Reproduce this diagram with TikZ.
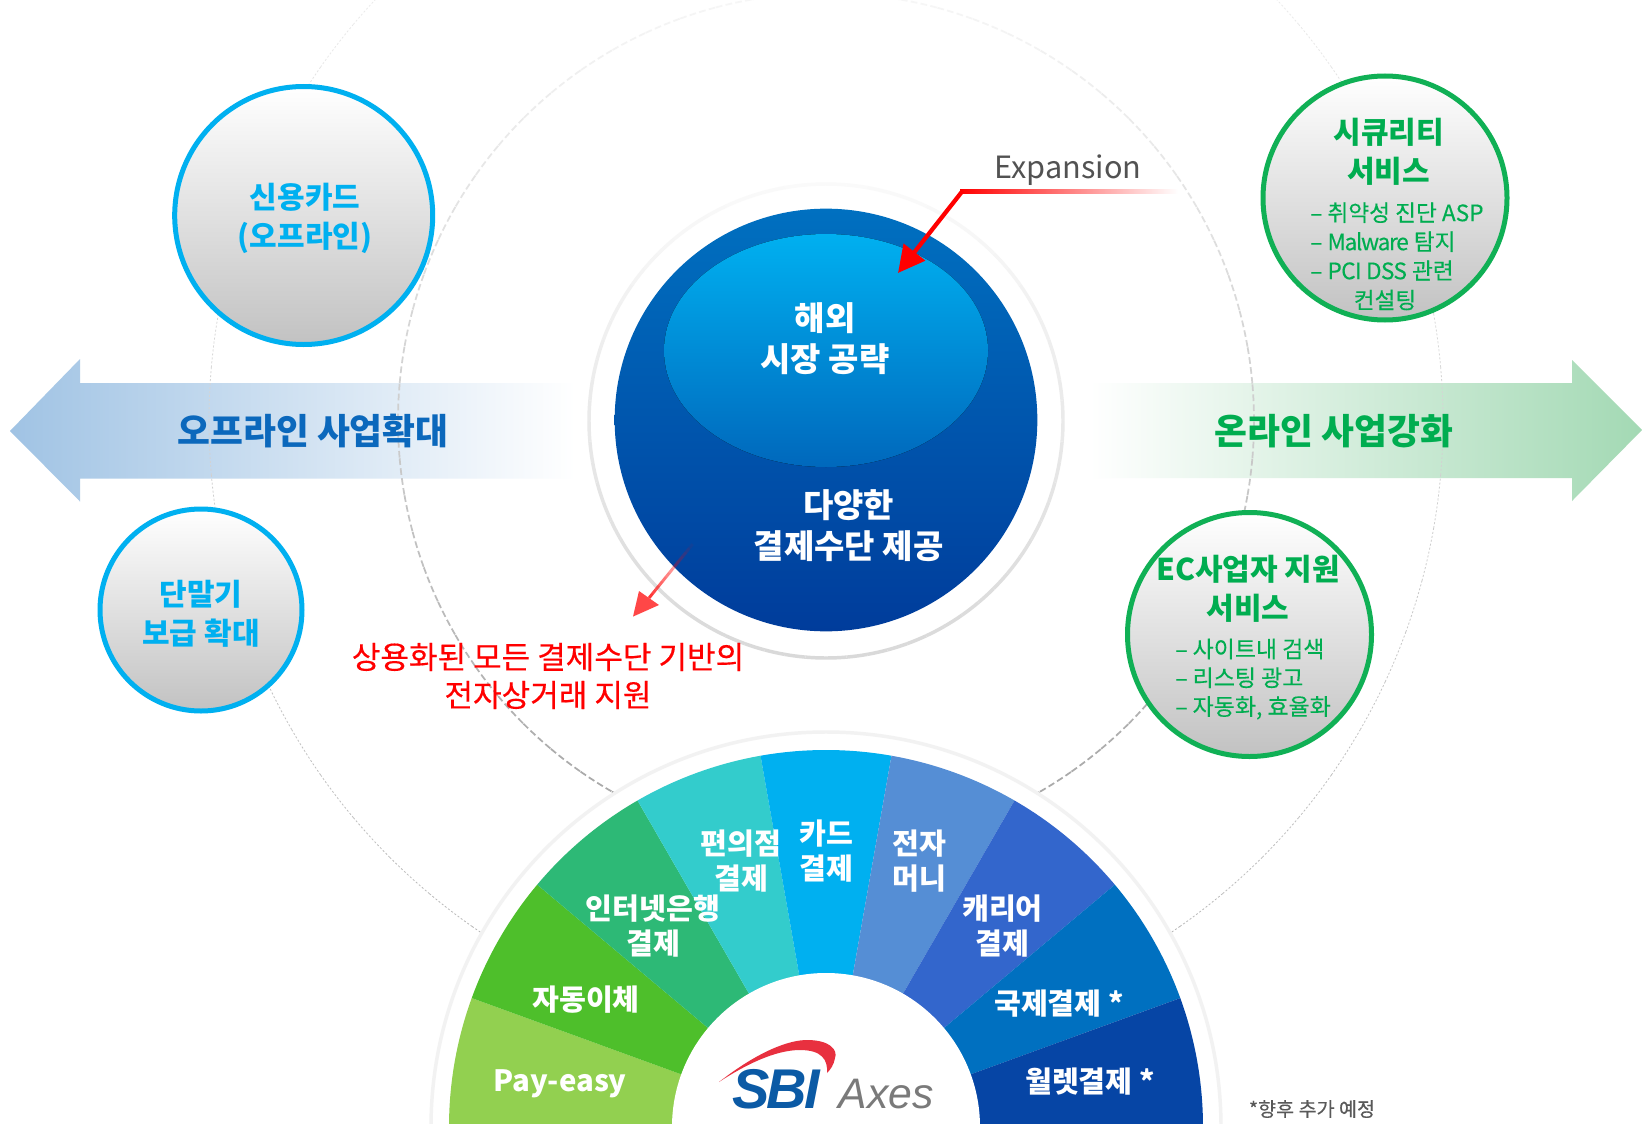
\documentclass[tikz,border=0pt]{standalone}
\usepackage{fontspec}
\setmainfont{Noto Sans CJK KR}
\newfontfamily\latinf{Liberation Sans}
\usetikzlibrary{calc,arrows.meta}
\definecolor{cyanT}{HTML}{00B0F0}
\definecolor{greenT}{HTML}{00AD50}
\definecolor{greenL}{HTML}{10B055}
\definecolor{blueT}{HTML}{0B68BC}
\definecolor{wPay}{HTML}{92D050}
\definecolor{wAuto}{HTML}{4EBF2B}
\definecolor{wNet}{HTML}{2DB976}
\definecolor{wConv}{HTML}{33CCCC}
\definecolor{wCard}{HTML}{00B0F0}
\definecolor{wEmon}{HTML}{558ED5}
\definecolor{wCarr}{HTML}{3366CC}
\definecolor{wIntl}{HTML}{0070C0}
\definecolor{wWall}{HTML}{0645A5}
\definecolor{sbiB}{HTML}{0B5AA5}
\definecolor{sbiR}{HTML}{E8303F}
\newcommand{\tightA}[1]{{\addfontfeature{LetterSpace=-6}#1}}
\newcommand{\tightB}[1]{{\addfontfeature{LetterSpace=-3}#1}}
\tikzset{
  x=0.75pt,y=-0.75pt,
  ball/.style={circle,inner sep=0pt,line width=3.75pt,top color=white,bottom color=black!24,shading=axis},
  ballC/.style={ball,draw=cyanT},
  ballG/.style={ball,draw=greenL},
  ttl/.style={align=center,inner sep=0pt,font=\fontsize{22.5}{29}\selectfont\bfseries},
  big/.style={inner sep=0pt,font=\fontsize{26.8}{30}\selectfont\bfseries},
  core/.style={align=center,inner sep=0pt,text=white,font=\fontsize{24.75}{30.75}\selectfont\bfseries},
  wheel/.style={align=center,inner sep=0pt,text=white,font=\fontsize{21.9}{26.25}\selectfont\bfseries},
  bul/.style={align=left,inner sep=0pt,text=greenT,font=\fontsize{17}{21.75}\selectfont\addfontfeature{FakeBold=0.25}},
  redtxt/.style={align=center,inner sep=0pt,text=red,font=\fontsize{23.3}{28.5}\selectfont\addfontfeature{FakeBold=0.35}},
}
\newcommand{\fadering}[6]{%
  \foreach \a in {0,5,...,355}{%
    \pgfmathsetmacro\p{#4+(#5-#4)*(1-sin(\a+2.5))/2}%
    \draw[black!\p!white,line width=#2,#3] ($(#6)+(\a:#1)$) arc[start angle=\a,end angle=\a+5,radius=#1];
  }}
\newcommand{\sector}[2]{%
  \fill[#2] (wc) -- ($(wc)+(#1:282.75pt)$) arc[start angle=#1,end angle=#1+20,radius=282.75pt] -- cycle;}
\begin{document}
\begin{tikzpicture}
\useasboundingbox (0,0) rectangle (1642,1124);
\clip (0,0) rectangle (1642,1124);
\fill[white] (0,0) rectangle (1642,1124);
\coordinate (mc) at (826,421);
\coordinate (wc) at (826,1127);

% arrows
\shade[left color={rgb,255:red,160;green,195;blue,228},middle color={rgb,255:red,186;green,200;blue,231},right color=white]
  (10,431) -- (80,359) -- (80,383) -- (575,383) -- (575,478.5) -- (80,478.5) -- (80,501.5) -- cycle;
\shade[left color=white,middle color={rgb,255:red,197;green,230;blue,209},right color={rgb,255:red,163;green,217;blue,180}]
  (1642,430) -- (1572,360) -- (1572,383) -- (1090,383) -- (1090,478) -- (1572,478) -- (1572,501) -- cycle;

% guide circles
\fadering{321pt}{1.3pt}{dash pattern=on 5pt off 2.5pt}{3}{36}{mc}
\fadering{462.75pt}{0.6pt}{dash pattern=on 1.5pt off 1.5pt}{4}{30}{mc}
\fadering{177.75pt}{2.6pt}{}{2}{15}{mc}

% core
\node[circle,inner sep=0pt,minimum size=317pt,top color={rgb,255:red,0;green,112;blue,192},bottom color={rgb,255:red,0;green,60;blue,155},shading=axis] (core) at (826,420) {};
\fill[top color={rgb,255:red,0;green,176;blue,240},bottom color={rgb,255:red,0;green,104;blue,188},shading=axis] (826,350.5) ellipse[x radius=162,y radius=116.5];
\node[core] (overseas) at (825,339) {해외\\시장 공략};
\node[core] (variety) at (848.6,525.5) {다양한\\결제수단 제공};

% side circles
\node[ballC,minimum size=193.5pt] (credit) at (303.7,215.5) {};
\node[ttl,text=cyanT] (creditT) at (305,218.5) {신용카드\\(오프라인)};
\node[ballC,minimum size=151.5pt] (term) at (201,610) {};
\node[ttl,text=cyanT] (termT) at (201,614) {단말기\\보급 확대};
\node[ballG,minimum size=183pt] (sec) at (1385,198) {};
\node[ttl,text=greenT] (secT) at (1388.6,152) {시큐리티\\서비스};
\node[bul,anchor=west] (secB) at (1310,241.5) {– 취약성 진단 ASP\\– \tightA{Malware} 탐지\\– \tightB{PCI DSS} 관련};
\node[bul,anchor=center] (secC) at (1385,300) {컨설팅};
\node[ballG,minimum size=183pt] (ec) at (1249.5,634.5) {};
\node[ttl,text=greenT] (ecT) at (1248,588.5) {EC사업자 지원\\서비스};
\node[bul,anchor=west,font=\fontsize{17.2}{21.6}\selectfont\addfontfeature{FakeBold=0.25}] (ecB) at (1175,679) {– 사이트내 검색\\– 리스팅 광고\\– 자동화, 효율화};

% arrow labels
\node[big,text=blueT] (off) at (313,430.6) {오프라인 사업확대};
\node[big,text=greenT] (on) at (1334,431) {온라인 사업강화};

% expansion
\node[inner sep=0pt,text=black!68,font=\fontsize{23}{26}\selectfont] (exp) at (1068,170) {Expansion};
\coordinate (elbow) at (962.5,191);
\coordinate (tip1) at (898,273);
\shade[left color=red,right color=white] (960,189) rectangle (1178,193);
\draw[red,line width=3.2pt,-{Triangle[width=20pt,length=20pt]}] (elbow) -- (tip1);

% lower arrow
\coordinate (fadeA) at (696,540);
\coordinate (fadeB) at (649,598);
\coordinate (tip2) at (633,616.6);
\foreach \i in {0,...,13}{%
  \pgfmathsetmacro\o{0.06*\i}%
  \draw[red,line width=2.2pt,opacity=\o] ($(fadeA)!\i/14!(fadeB)$) -- ($(fadeA)!\i/14+1/14!(fadeB)$);
}
\fill[red!72!white] (tip2) -- (639,591) -- (659,605) -- cycle;

\node[redtxt] (rt) at (548,676) {상용화된 모든 결제수단 기반의\\전자상거래 지원};

% wheel
\fill[white] (wc) circle[radius=395];
\draw[black!5,line width=2.6pt] (wc) circle[radius=395];
\sector{160}{wPay}
\sector{140}{wAuto}
\sector{120}{wNet}
\sector{100}{wConv}
\sector{80}{wCard}
\sector{60}{wEmon}
\sector{40}{wCarr}
\sector{20}{wIntl}
\sector{0}{wWall}
\fill[wPay] (449,1127) rectangle (826,1124);
\node[circle,fill=white,inner sep=0pt,minimum size=231pt] (hub) at (wc) {};

\node[wheel,font=\fontsize{22}{26}\selectfont\bfseries] (w1) at (560,1084) {Pay-easy};
\node[wheel] (w2) at (586,999.5) {자동이체};
\node[wheel] (w3) at (653,926.5) {인터넷은행\\결제};
\node[wheel] (w4) at (741,861.5) {편의점\\결제};
\node[wheel] (w5) at (826,851.5) {카드\\결제};
\node[wheel] (w6) at (919.5,861.5) {전자\\머니};
\node[wheel] (w7) at (1002.5,926.5) {캐리어\\결제};
\node[wheel] (w8) at (1059,1003.5) {국제결제 *};
\node[wheel] (w9) at (1090,1081.5) {월렛결제 *};

% logo
\fill[sbiR] (719,1082) .. controls (760,1050) and (790,1040) .. (807,1040)
  .. controls (830,1040) and (838,1050) .. (835,1058)
  .. controls (834,1065) and (830,1070) .. (827,1073)
  .. controls (828,1060) and (822,1050) .. (800,1050)
  .. controls (775,1050) and (745,1065) .. (719,1082) -- cycle;
\node[inner sep=0pt,text=sbiB,font=\fontsize{42}{44}\selectfont\latinf\bfseries\itshape\addfontfeature{LetterSpace=-5}] (sbi) at (776,1089) {SBI};
\node[inner sep=0pt,text=black!52,font=\fontsize{32}{36}\selectfont\latinf\itshape] (axes) at (886,1094) {Axes};

\node[inner sep=0pt,text=black!65,font=\fontsize{14.7}{18}\selectfont\addfontfeature{FakeBold=0.2}] (note) at (1312,1109) {*향후 추가 예정};
\end{tikzpicture}
\end{document}
